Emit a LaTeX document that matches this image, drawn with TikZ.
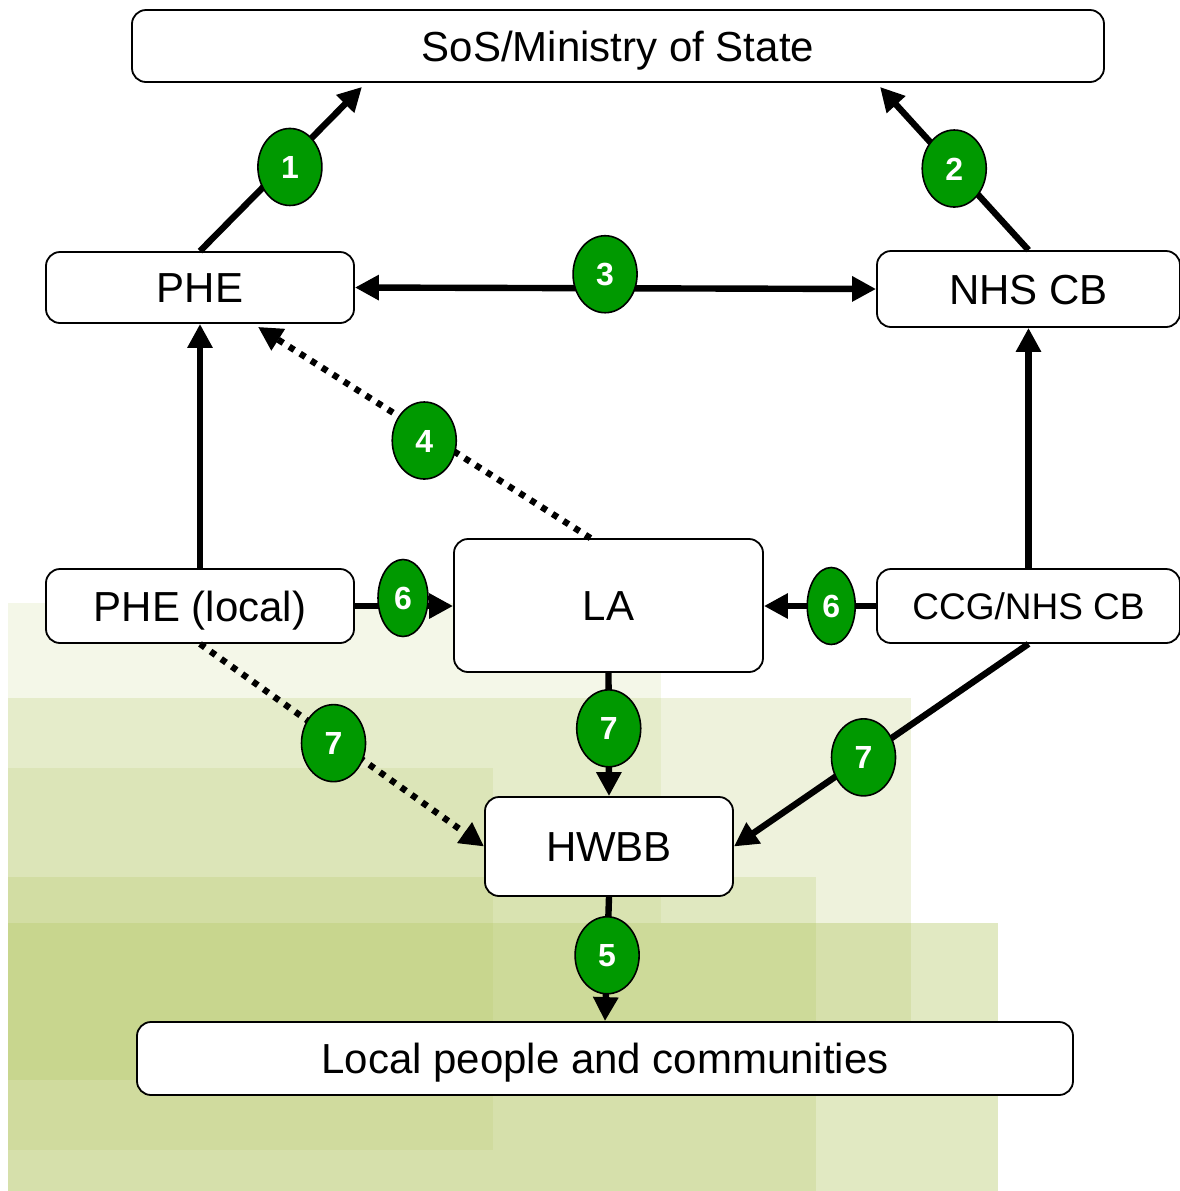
\documentclass[tikz,border=0pt]{standalone}
\usepackage{fontspec}
\setmainfont{Liberation Sans}
\usetikzlibrary{arrows.meta,shapes.geometric}
\definecolor{badgegreen}{RGB}{0,153,0}
\definecolor{bgolive}{RGB}{170,191,80}
% background square: right x, top y, bottom y, opacity
\newcommand{\bgsquare}[4]{
  \fill[bgolive, fill opacity=#4] (8,#2) rectangle (#1,#3);
}

\begin{document}
\begin{tikzpicture}[x=0.5pt, y=-0.5pt,
  >={Triangle[length=12pt,width=12pt]},
  box/.style={draw, fill=white, rounded corners=7pt, line width=0.9pt,
    inner sep=0pt, text height=15pt, text depth=0pt, font=\fontsize{21}{25}\selectfont},
  link/.style={line width=3.2pt, ->},
  dots/.style={link, dash pattern=on 3pt off 3.5pt},
  badge/.style={ellipse, draw, solid, line width=0.8pt, fill=badgegreen,
    minimum width=32pt, minimum height=38.5pt, inner sep=0pt, text=white,
    text height=11.5pt, text depth=0pt, font=\fontsize{16}{16}\bfseries\selectfont}]
\useasboundingbox (0,0) rectangle (1180,1191);
% background
\bgsquare{661}{603}{923}{0.13}
\bgsquare{911}{698}{1080}{0.2}
\bgsquare{493}{768}{1150}{0.15}
\bgsquare{816}{877}{1191}{0.2}
\bgsquare{998}{923}{1191}{0.35}
% bodies
\node[box, minimum width=486pt, minimum height=36pt] (SoS) at (618,46) {SoS/Ministry of State};
\node[box, minimum width=154pt, minimum height=35.5pt] (PHE) at (200,287.5) {PHE};
\node[box, minimum width=151.5pt, minimum height=38pt] (NHS) at (1028.5,289) {NHS CB};
\node[box, minimum width=154pt, minimum height=37pt] (PHEl) at (200,606) {PHE (local)};
\node[box, minimum width=154.5pt, minimum height=66.5pt] (LA) at (608.5,605.5) {LA};
\node[box, minimum width=151.5pt, minimum height=37pt, text height=13.3pt,
  font=\fontsize{18.5}{22}\selectfont] (CCG) at (1028.5,606) {CCG/NHS CB};
\node[box, minimum width=124pt, minimum height=49.5pt] (HWBB) at (609,846.5) {HWBB};
\node[box, minimum width=468pt, minimum height=36.5pt] (Local) at (605,1058.5) {Local people and communities};
% top level
\draw[link] (PHE.north) -- ([xshift=-128pt,yshift=-2pt]SoS.south) node[badge, pos=0.555, yshift=-3.5pt] {1};
\draw[link] (NHS.north) -- ([xshift=131pt,yshift=-2pt]SoS.south) node[badge, pos=0.5] {2};
\draw[link, <->] (PHE.east) -- (NHS.west) node[badge, pos=0.48, yshift=7pt] {3};
\draw[dots] ([xshift=-9pt]LA.north) -- ([xshift=29pt,yshift=-1.5pt]PHE.south) node[badge, pos=0.5, yshift=-4pt] {4};
\draw[link] (PHEl.north) -- (PHE.south);
\draw[link] (CCG.north) -- (NHS.south);
% local level
\draw[link] (PHEl.east) -- (PHEl.east -| LA.west) node[badge, minimum width=25pt, pos=0.49, yshift=4pt] {6};
\draw[link] (CCG.west) -- (CCG.west -| LA.east) node[badge, minimum width=24pt, pos=0.4] {6};
\draw[link] (LA.south) -- (HWBB.north) node[badge, pos=0.45] {7};
\draw[dots] (PHEl.south) -- (HWBB.west) node[badge, pos=0.47, yshift=-2pt] {7};
\draw[link] (CCG.south) -- (HWBB.east) node[badge, pos=0.56] {7};
\draw[link] (HWBB.south) -- (Local.north) node[badge, pos=0.47] {5};
\end{tikzpicture}
\end{document}
